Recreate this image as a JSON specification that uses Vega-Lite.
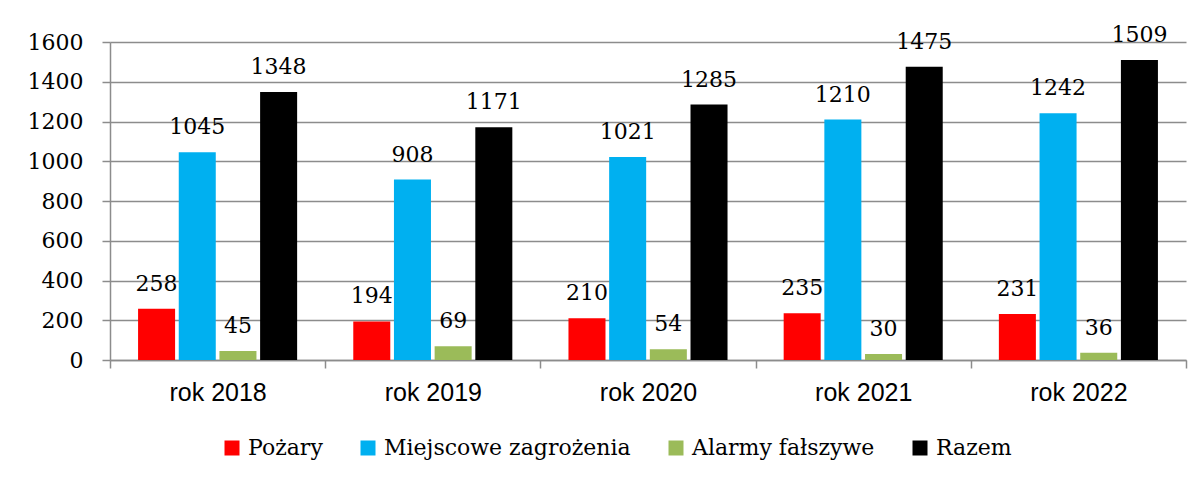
{
  "$schema": "https://vega.github.io/schema/vega-lite/v6.json",
  "width": 1076,
  "height": 318,
  "autosize": {"type": "none"},
  "padding": {"left": 110, "top": 42, "right": 17, "bottom": 119},
  "background": "white",
  "config": {"view": {"stroke": null}},
  "data": {
    "values": [
      {"rok": "rok 2018", "kat": "Pożary", "v": 258},
      {"rok": "rok 2018", "kat": "Miejscowe zagrożenia", "v": 1045},
      {"rok": "rok 2018", "kat": "Alarmy fałszywe", "v": 45},
      {"rok": "rok 2018", "kat": "Razem", "v": 1348},
      {"rok": "rok 2019", "kat": "Pożary", "v": 194},
      {"rok": "rok 2019", "kat": "Miejscowe zagrożenia", "v": 908},
      {"rok": "rok 2019", "kat": "Alarmy fałszywe", "v": 69},
      {"rok": "rok 2019", "kat": "Razem", "v": 1171},
      {"rok": "rok 2020", "kat": "Pożary", "v": 210},
      {"rok": "rok 2020", "kat": "Miejscowe zagrożenia", "v": 1021},
      {"rok": "rok 2020", "kat": "Alarmy fałszywe", "v": 54},
      {"rok": "rok 2020", "kat": "Razem", "v": 1285},
      {"rok": "rok 2021", "kat": "Pożary", "v": 235},
      {"rok": "rok 2021", "kat": "Miejscowe zagrożenia", "v": 1210},
      {"rok": "rok 2021", "kat": "Alarmy fałszywe", "v": 30},
      {"rok": "rok 2021", "kat": "Razem", "v": 1475},
      {"rok": "rok 2022", "kat": "Pożary", "v": 231},
      {"rok": "rok 2022", "kat": "Miejscowe zagrożenia", "v": 1242},
      {"rok": "rok 2022", "kat": "Alarmy fałszywe", "v": 36},
      {"rok": "rok 2022", "kat": "Razem", "v": 1509}
    ]
  },
  "encoding": {
    "x": {
      "field": "rok", "type": "nominal", "sort": null,
      "scale": {"paddingInner": 0, "paddingOuter": 0},
      "axis": {
        "title": null, "labelAngle": 0, "labelFont": "Liberation Sans", "labelFontSize": 25,
        "labelColor": "black", "labelPadding": 12, "tickSize": 8, "tickBand": "extent",
        "tickColor": "#8C8C8C", "tickWidth": 1.5, "domainColor": "#8C8C8C", "domainWidth": 1.5, "grid": false
      }
    },
    "xOffset": {
      "field": "kat", "type": "nominal",
      "sort": ["Pożary", "Miejscowe zagrożenia", "Alarmy fałszywe", "Razem"],
      "scale": {"paddingInner": 0.09, "paddingOuter": 0.69}
    },
    "y": {
      "field": "v", "type": "quantitative",
      "scale": {"domain": [0, 1600], "nice": false},
      "axis": {
        "title": null, "values": [0, 200, 400, 600, 800, 1000, 1200, 1400, 1600], "format": "d",
        "labelFont": "DejaVu Serif", "labelFontSize": 22, "labelColor": "black", "labelPadding": 19,
        "tickSize": 8, "tickColor": "#8C8C8C", "tickWidth": 1.5,
        "domainColor": "#8C8C8C", "domainWidth": 1.5,
        "grid": true, "gridColor": "#8C8C8C", "gridWidth": 1.5
      }
    }
  },
  "layer": [
    {
      "mark": {"type": "bar"},
      "encoding": {
        "color": {
          "field": "kat", "type": "nominal",
          "scale": {
            "domain": ["Pożary", "Miejscowe zagrożenia", "Alarmy fałszywe", "Razem"],
            "range": ["#FF0000", "#00B0F0", "#9BBB59", "#000000"]
          },
          "legend": {
            "title": null, "orient": "none", "legendX": 111, "legendY": 395, "direction": "horizontal",
            "symbolType": "square", "symbolSize": 225, "symbolStrokeWidth": 0,
            "labelFont": "DejaVu Serif", "labelFontSize": 22, "labelColor": "black",
            "labelOffset": 5, "columnPadding": 34, "labelLimit": 400
          }
        }
      }
    },
    {
      "mark": {"type": "text", "baseline": "alphabetic", "dy": -18, "font": "DejaVu Serif", "fontSize": 22, "color": "black"},
      "encoding": {"text": {"field": "v", "type": "quantitative", "format": "d"}}
    }
  ]
}
